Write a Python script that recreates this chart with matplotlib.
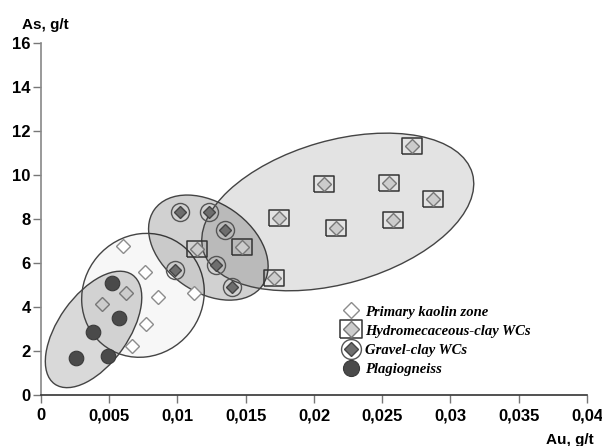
import matplotlib
matplotlib.use('Agg')
import matplotlib.pyplot as plt
from matplotlib.patches import Ellipse
from matplotlib.transforms import ScaledTranslation
from matplotlib.legend_handler import HandlerTuple
from matplotlib.ticker import FuncFormatter

# Au, g/t and As, g/t
kaolin_au = [0.0060, 0.0076, 0.0086, 0.0077, 0.0067, 0.0112]
kaolin_as = [6.77, 5.58, 4.47, 3.21, 2.23, 4.62]

hydro_au = [0.0114, 0.0147, 0.0174, 0.0171, 0.0272, 0.0207, 0.0255, 0.0287, 0.0216, 0.0258]
hydro_as = [6.62, 6.74, 8.06, 5.30, 11.33, 9.59, 9.65, 8.89, 7.60, 7.95]

# two grey diamonds drawn without a frame
loose_au = [0.0045, 0.0062]
loose_as = [4.14, 4.65]

gravel_au = [0.0102, 0.0123, 0.0135, 0.0128, 0.0098, 0.0140]
gravel_as = [8.33, 8.30, 7.50, 5.91, 5.68, 4.89]

plag_au = [0.0026, 0.0049, 0.0038, 0.0057, 0.0052]
plag_as = [1.67, 1.79, 2.85, 3.48, 5.11]

labels = ['Primary kaolin zone', 'Hydromecaceous-clay WCs', 'Gravel-clay WCs', 'Plagiogneiss']

# outline ellipses: centre (Au, As), semi axes in pixels, angle, shade
ell_centres = [(0.00385, 2.98), (0.00747, 4.53), (0.01226, 6.70), (0.02174, 8.32)]
ell_axes = [(67, 35), (63.5, 59.7), (66, 44.5), (140, 71.5)]
ell_angles = [54.5, 50, -35, 16]
ell_alpha = [0.15, 0.03, 0.18, 0.11]

fig = plt.figure(figsize=(6.02, 4.46), dpi=100)
ax = fig.add_axes([41 / 602, 51 / 446, 546 / 602, 352 / 446])
ax.set_xlim(0, 0.04)
ax.set_ylim(0, 16)

for (cx, cy), (a, b), ang, al in zip(ell_centres, ell_axes, ell_angles, ell_alpha):
    trans = fig.dpi_scale_trans + ScaledTranslation(cx, cy, ax.transData)
    e = Ellipse((0, 0), 2 * a / 100, 2 * b / 100, angle=ang, transform=trans,
                facecolor=(0, 0, 0, al), edgecolor='#444444', lw=1.0, zorder=1)
    ax.add_patch(e)

rect = [(-1.25, -1), (1.25, -1), (1.25, 1), (-1.25, 1), (-1.25, -1)]

k, = ax.plot(kaolin_au, kaolin_as, ls='none', marker='D', ms=7.5,
             mfc='white', mec='#8c8c8c', mew=1.0, zorder=3)
ax.plot(loose_au, loose_as, ls='none', marker='D', ms=7,
        mfc='#cccccc', mec='#777777', mew=1.0, zorder=3)
hs, = ax.plot(hydro_au, hydro_as, ls='none', marker=rect, ms=15,
              mfc='none', mec='#333333', mew=1.1, zorder=3)
hd, = ax.plot(hydro_au, hydro_as, ls='none', marker='D', ms=7,
              mfc='#cccccc', mec='#777777', mew=1.0, zorder=4)
gc, = ax.plot(gravel_au, gravel_as, ls='none', marker='o', ms=13,
              mfc='none', mec='#555555', mew=1.0, zorder=3)
gd, = ax.plot(gravel_au, gravel_as, ls='none', marker='D', ms=6.5,
              mfc='#6e6e6e', mec='#444444', mew=1.0, zorder=4)
p, = ax.plot(plag_au, plag_as, ls='none', marker='o', ms=10.5,
             mfc='#4a4a4a', mec='#3a3a3a', mew=0.8, zorder=3)

leg = ax.legend([k, (hs, hd), (gc, gd), p], labels,
                handler_map={tuple: HandlerTuple(ndivide=1)},
                loc='upper left', bbox_to_anchor=(0.528, 0.292), frameon=False,
                handlelength=1.2, handletextpad=0.35, labelspacing=0.4,
                markerscale=1.1,
                prop={'family': 'Liberation Serif', 'weight': 'bold',
                      'style': 'italic', 'size': 10.5})

for s in ['top', 'right']:
    ax.spines[s].set_visible(False)
ax.spines['left'].set_color('#888888')
ax.spines['bottom'].set_color('#333333')
ax.spines['left'].set_linewidth(1.2)
ax.spines['bottom'].set_linewidth(1.2)

ax.set_xticks([i * 0.005 for i in range(9)])
ax.set_yticks(range(0, 17, 2))
ax.xaxis.set_major_formatter(FuncFormatter(lambda v, pos: ('%g' % round(v, 3)).replace('.', ',')))
ax.tick_params(axis='both', direction='out', length=5.5, color='#777777', width=1,
               labelsize=12)
ax.tick_params(axis='x', pad=4)
ax.tick_params(axis='y', pad=2)
for t in ax.get_xticklabels() + ax.get_yticklabels():
    t.set_fontfamily('Liberation Sans')
    t.set_fontweight('bold')

fig.text(22 / 602, 1 - 25 / 446, 'As, g/t', family='Liberation Sans', weight='bold',
         fontsize=11, va='center', ha='left')
fig.text(594 / 602, 1 - 440 / 446, 'Au, g/t', family='Liberation Sans', weight='bold',
         fontsize=11, va='center', ha='right')

fig.savefig('out.png', dpi=100)
